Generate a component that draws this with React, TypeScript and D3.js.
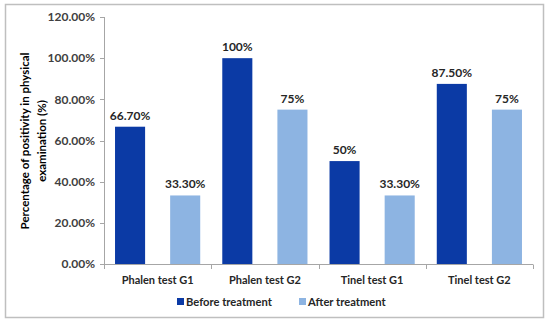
import React from 'react';
import * as d3 from 'd3';

const categories = ['Phalen test G1', 'Phalen test G2', 'Tinel test G1', 'Tinel test G2'];
const seriesNames = ['Before treatment', 'After treatment'];
const beforeValues = [0.667, 1.0, 0.5, 0.875];
const afterValues = [0.333, 0.75, 0.333, 0.75];
const beforeLabels = ['66.70%', '100%', '50%', '87.50%'];
const afterLabels = ['33.30%', '75%', '33.30%', '75%'];
const yTicks = [0, 0.2, 0.4, 0.6, 0.8, 1.0, 1.2];
const colors = ['#0B3AA5', '#8DB4E2'];

const W = 550;
const H = 324;
const font = "Lato, 'Open Sans', sans-serif";

export default function App() {
    const y = d3.scaleLinear().domain([0, 1.2]).range([264, 17]);
    const x = d3.scaleBand().domain(categories).range([104, 533]);
    const sub = d3
        .scaleBand()
        .domain(seriesNames)
        .range([0, x.bandwidth()])
        .paddingInner(0.4545)
        .paddingOuter(0.2);

    const series = [
        { name: seriesNames[0], values: beforeValues, labels: beforeLabels, color: colors[0] },
        { name: seriesNames[1], values: afterValues, labels: afterLabels, color: colors[1] }
    ];

    const tickEdges = [...categories.map(c => x(c)), x.range()[1]];

    return (
        <svg width={W} height={H} style={{ position: 'absolute', left: 0, top: 0 }} fontFamily={font}>
            <rect x={0} y={0} width={W} height={H} fill="#fff" />
            <rect x={5.5} y={4.5} width={538} height={313} fill="none" stroke="#bfbfbf" strokeWidth={1.5} />

            {/* y axis */}
            <line x1={104.5} x2={104.5} y1={y(1.2)} y2={y(0)} stroke="#a6a6a6" />
            {yTicks.map(t => (
                <g key={t}>
                    <line x1={100} x2={104.5} y1={Math.round(y(t)) + 0.5} y2={Math.round(y(t)) + 0.5} stroke="#a6a6a6" />
                    <text
                        x={95}
                        y={y(t)}
                        dy="0.35em"
                        textAnchor="end"
                        fontSize={12}
                        fontWeight="bold"
                        fill="#404040"
                    >
                        {d3.format('.2%')(t)}
                    </text>
                </g>
            ))}

            {/* x axis */}
            <line x1={104} x2={533} y1={264.5} y2={264.5} stroke="#a6a6a6" />
            {tickEdges.map((e, i) => (
                <line key={i} x1={Math.round(e) + 0.5} x2={Math.round(e) + 0.5} y1={264.5} y2={269} stroke="#a6a6a6" />
            ))}
            {categories.map(c => (
                <text
                    key={c}
                    x={x(c) + x.bandwidth() / 2}
                    y={284}
                    textAnchor="middle"
                    fontSize={11}
                    fontWeight="bold"
                    fill="#262626"
                >
                    {c}
                </text>
            ))}

            {/* bars */}
            {series.map(s => (
                <g key={s.name}>
                    {categories.map((c, i) => {
                        const bx = x(c) + sub(s.name);
                        const by = y(s.values[i]);
                        return (
                            <g key={c}>
                                <rect x={bx} y={by} width={sub.bandwidth()} height={y(0) - by} fill={s.color} />
                                <text
                                    x={bx + sub.bandwidth() / 2}
                                    y={by - 7}
                                    textAnchor="middle"
                                    fontSize={12}
                                    fontWeight="bold"
                                    fill="#262626"
                                >
                                    {s.labels[i]}
                                </text>
                            </g>
                        );
                    })}
                </g>
            ))}

            {/* y title */}
            <g transform="translate(33,141) rotate(-90)">
                <text x={0} y={-4} textAnchor="middle" fontSize={11.5} fontWeight="bold" fill="#000">
                    Percentage of positivity in physical
                </text>
                <text x={0} y={13} textAnchor="middle" fontSize={11.5} fontWeight="bold" fill="#000">
                    examination (%)
                </text>
            </g>

            {/* legend */}
            {series.map((s, i) => {
                const lx = i === 0 ? 177 : 299;
                return (
                    <g key={s.name} transform={`translate(${lx},302)`}>
                        <rect x={0} y={-4} width={7} height={7} fill={s.color} />
                        <text x={9} y={0} dy="0.35em" fontSize={11.2} fontWeight="bold" fill="#262626">
                            {s.name}
                        </text>
                    </g>
                );
            })}
        </svg>
    );
}
